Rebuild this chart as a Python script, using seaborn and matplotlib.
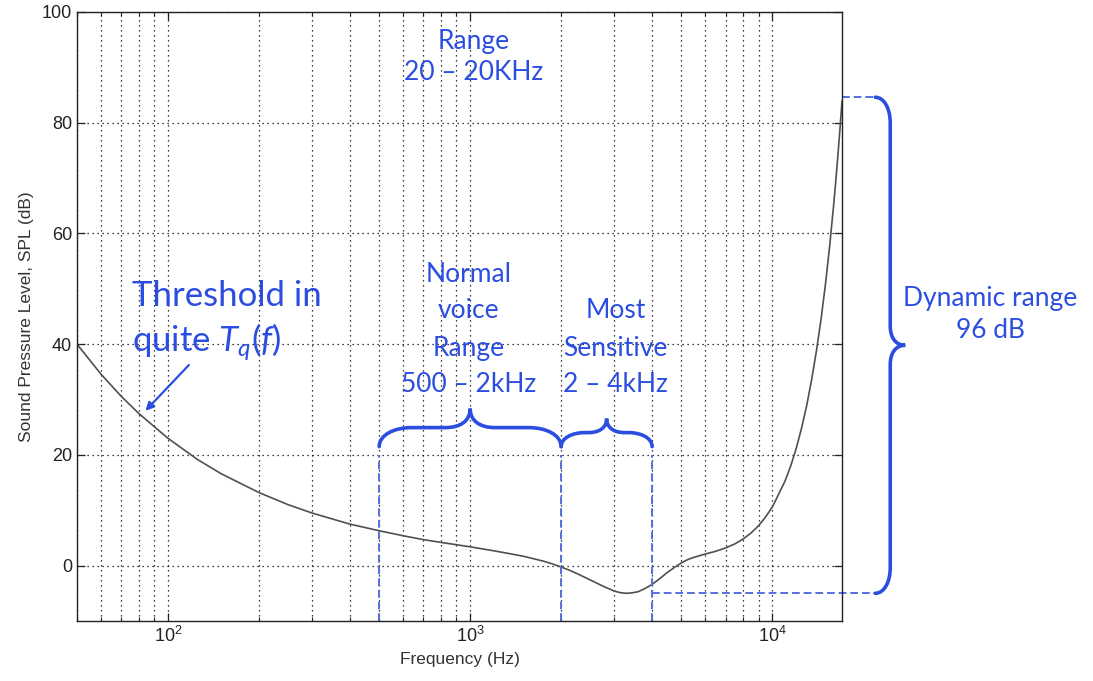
import matplotlib
matplotlib.use('Agg')
import matplotlib.pyplot as plt
import seaborn as sns
import pandas as pd
import numpy as np
from matplotlib.path import Path
from matplotlib.patches import PathPatch

# 听阈曲线
freq_hz = [50, 60, 70, 80, 100, 125, 150, 200, 250, 300, 400, 500, 600, 700, 800,
           1000, 1250, 1500, 1750, 1875, 2000, 2125, 2250, 2500, 2750, 3000, 3150,
           3300, 3450, 3600, 3800, 4000, 4250, 4500, 4750, 5000, 5250, 5500, 6000,
           6500, 7000, 7500, 8000, 8500, 9000, 9500, 10000, 11000, 11500, 12000,
           12500, 13000, 13500, 14000, 14500, 15000, 15500, 16000, 16250, 16500,
           16750, 17000]
spl_db = [40.0, 34.6, 30.6, 27.5, 23.0, 19.2, 16.6, 13.2, 11.0, 9.5, 7.5, 6.3, 5.4,
          4.7, 4.2, 3.4, 2.5, 1.7, 0.8, 0.3, -0.25, -0.8, -1.4, -2.6, -3.7, -4.6,
          -4.9, -5.0, -4.9, -4.7, -4.1, -3.4, -2.3, -1.2, -0.3, 0.5, 1.1, 1.5, 2.1,
          2.6, 3.2, 3.9, 4.8, 5.9, 7.2, 8.8, 10.6, 15.2, 18.0, 21.2, 24.9, 29.0,
          33.7, 38.9, 44.6, 51.0, 58.1, 65.9, 70.1, 74.5, 79.1, 83.9]

voice_band = [500, 2000]
sensitive_band = [2000, 4000]
spl_min, spl_max = -5, 84.6

blue = '#2b4ee0'
dash_blue = '#5470e0'

sns.set_style('ticks')
plt.rcParams['font.family'] = ['Liberation Sans', 'DejaVu Sans']
plt.rcParams['mathtext.fontset'] = 'custom'
plt.rcParams['mathtext.rm'] = 'Lato'
plt.rcParams['mathtext.it'] = 'Lato:italic'

fig = plt.figure(figsize=(10.93, 6.81), dpi=100)
ax = fig.add_axes([77/1093, 1 - 621/681, (842 - 77)/1093, (621 - 12)/681])

df = pd.DataFrame({'f': freq_hz, 'spl': spl_db})
sns.lineplot(data=df, x='f', y='spl', ax=ax, color='#505050', lw=1.2)
ax.set_xscale('log')
ax.set_xlim(50, 17000)
ax.set_ylim(-10, 100)
ax.set_yticks([0, 20, 40, 60, 80, 100])
ax.grid(True, which='major', axis='both', color='k', ls=(0, (1, 3)), lw=0.9)
ax.grid(True, which='minor', axis='x', color='k', ls=(0, (1, 3)), lw=0.9)
ax.tick_params(which='both', direction='in', top=True, right=True,
               labelsize=13, colors='#222222')
ax.tick_params(which='major', length=6, width=0.9)
ax.tick_params(which='minor', length=3, width=0.8)
for s in ax.spines.values():
    s.set_linewidth(1.0)
    s.set_color('#222222')
ax.set_xlabel('Frequency (Hz)', fontsize=12.5, color='#333333', labelpad=4)
ax.set_ylabel('Sound Pressure Level, SPL (dB)', fontsize=12.5, color='#333333', labelpad=6)

# 蓝色虚线
for xv in voice_band + sensitive_band[1:]:
    ax.plot([xv, xv], [-10, 20], color=dash_blue, ls=(0, (4, 2)), lw=1.4)
ax.plot([4000, 21900], [spl_min, spl_min], color=dash_blue, ls=(0, (4, 2)), lw=1.4, clip_on=False)
ax.plot([17000, 21500], [spl_max, spl_max], color=dash_blue, ls=(0, (4, 2)), lw=1.4, clip_on=False)


def brace(p0, p1, r, horizontal=True):
    # 在像素坐标里画花括号
    (x0, y0) = ax.transData.transform(p0)
    (x1, y1) = ax.transData.transform(p1)
    if horizontal:
        a0, a1, b = x0, x1, y0
    else:
        a0, a1, b = y1, y0, x0
    am = (a0 + a1) / 2
    cw, mw = 1.7 * r, 1.3 * r
    half = (a1 - a0) / 2
    if cw + mw > half:
        sc = half / (cw + mw)
        cw, mw = cw * sc, mw * sc
    pts = [(a0, 0), (a0, 0.6*r), (a0 + 0.45*cw, r), (a0 + cw, r),
           (am - mw, r),
           (am - 0.4*mw, r), (am, 1.35*r), (am, 2*r),
           (am, 1.35*r), (am + 0.4*mw, r), (am + mw, r),
           (a1 - cw, r),
           (a1 - 0.45*cw, r), (a1, 0.6*r), (a1, 0)]
    codes = [Path.MOVETO, Path.CURVE4, Path.CURVE4, Path.CURVE4, Path.LINETO,
             Path.CURVE4, Path.CURVE4, Path.CURVE4, Path.CURVE4, Path.CURVE4, Path.CURVE4,
             Path.LINETO, Path.CURVE4, Path.CURVE4, Path.CURVE4]
    if horizontal:
        disp = [(a, b + v) for a, v in pts]
    else:
        disp = [(b + v, a) for a, v in pts]
    figpts = fig.transFigure.inverted().transform(disp)
    patch = PathPatch(Path(figpts, codes), transform=fig.transFigure, fill=False,
                      ec=blue, lw=2.6, clip_on=False, capstyle='round')
    fig.add_artist(patch)


brace((voice_band[0], 21.5), (voice_band[1], 21.5), 19)
brace((sensitive_band[0], 21.5), (sensitive_band[1], 21.5), 14)
brace((21900, spl_max), (21900, spl_min), 15, horizontal=False)

tfont = ['Lato', 'DejaVu Sans']
ax.text(1030, 94.7, 'Range', color=blue, fontsize=19, ha='center', va='center', family=tfont)
ax.text(1030, 89.0, '20 – 20KHz', color=blue, fontsize=19, ha='center', va='center', family=tfont)

ax.text(76, 48.7, 'Threshold in', color=blue, fontsize=25, ha='left', va='center', family=tfont)
ax.text(76, 40.4, 'quite $T_q(f)$', color=blue, fontsize=25, ha='left', va='center', family=tfont)
ax.annotate('', xy=(83, 27.6), xytext=(119, 36.6),
            arrowprops=dict(arrowstyle='-|>', color=blue, lw=1.6, mutation_scale=12))

for txt, yv in zip(['Normal', 'voice', 'Range', '500 – 2kHz'], [52.5, 46.0, 39.3, 32.8]):
    ax.text(990, yv, txt, color=blue, fontsize=19, ha='center', va='center', family=tfont)
for txt, yv in zip(['Most', 'Sensitive', '2 – 4kHz'], [46.0, 39.3, 32.8]):
    ax.text(3030, yv, txt, color=blue, fontsize=19, ha='center', va='center', family=tfont)
for txt, yv in zip(['Dynamic range', '96 dB'], [48.3, 42.5]):
    ax.text(52600, yv, txt, color=blue, fontsize=19, ha='center', va='center', family=tfont)

plt.savefig('out.png', dpi=100)
